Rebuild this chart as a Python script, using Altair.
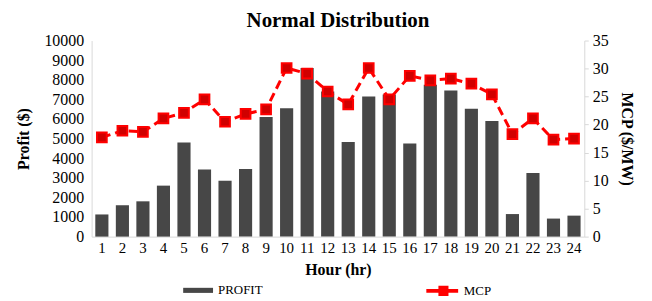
import altair as alt
import pandas as pd

hours = list(range(1, 25))
profit = [1130, 1600, 1800, 2600, 4800, 3420, 2850, 3450, 6100, 6550, 8600, 7400,
          4820, 7150, 7250, 4750, 7750, 7450, 6520, 5900, 1150, 3250, 920, 1070]
mcp = [17.7, 18.9, 18.7, 21.1, 22.1, 24.5, 20.5, 21.9, 22.7, 30.1, 29.1, 25.9,
       23.6, 30.1, 24.5, 28.7, 27.9, 28.2, 27.3, 25.4, 18.3, 21.1, 17.3, 17.5]

df = pd.DataFrame({"Hour": hours, "Profit": profit, "MCP": mcp,
                   "s1": ["PROFIT"] * 24, "s2": ["MCP"] * 24})

FONT = "Liberation Serif"

x = alt.X("Hour:O", title="Hour (hr)",
          scale=alt.Scale(paddingInner=0.36, paddingOuter=0.18),
          axis=alt.Axis(labelAngle=0, labelFontSize=15, labelFont=FONT, labelColor="black",
                        titleFontSize=16, titleFont=FONT, titleFontWeight="bold",
                        titleColor="black", ticks=False, domainColor="#d9d9d9",
                        labelPadding=4, titlePadding=6))

bars = alt.Chart(df).mark_bar(color="#474747").encode(
    x=x,
    y=alt.Y("Profit:Q", title="Profit ($)",
            scale=alt.Scale(domain=[0, 10000], nice=False),
            axis=alt.Axis(values=list(range(0, 10001, 1000)), format="d", grid=False,
                          ticks=False, domainColor="#d9d9d9", labelFontSize=16,
                          labelFont=FONT, labelColor="black", labelPadding=8,
                          titleFontSize=16, titleFont=FONT, titleFontWeight="bold",
                          titleColor="black", titlePadding=12)),
    color=alt.Color("s1:N", scale=alt.Scale(domain=["PROFIT"], range=["#474747"]),
                    legend=alt.Legend(title=None, orient="none", legendX=92, legendY=236,
                                      symbolType="M-1,-0.17H1V0.17H-1Z", symbolSize=900,
                                      labelFont=FONT, labelFontSize=13, labelColor="black",
                                      labelOffset=5, symbolStrokeWidth=0)),
)

y2 = alt.Y("MCP:Q", title="MCP ($/MW)",
           scale=alt.Scale(domain=[0, 35], nice=False),
           axis=alt.Axis(orient="right", values=list(range(0, 36, 5)), grid=False,
                         ticks=True, tickSize=4, tickColor="#d9d9d9",
                         domainColor="#d9d9d9", labelFontSize=16, labelFont=FONT,
                         labelColor="black", labelPadding=4,
                         titleFontSize=16, titleFont=FONT, titleFontWeight="bold",
                         titleColor="black", titleAngle=90, titlePadding=10))

line = alt.Chart(df).mark_line(color="#ff0000", strokeWidth=3, strokeDash=[9, 5]).encode(
    x=x, y=y2,
    stroke=alt.Stroke("s2:N", scale=alt.Scale(domain=["MCP"], range=["#ff0000"]),
                      legend=alt.Legend(title=None, orient="none", legendX=336, legendY=234,
                                        symbolType="M-1,-0.06H0V0.06H-1Z M0.35,-0.06H0.85V0.06H0.35Z M-0.25,-0.25H0.25V0.25H-0.25Z",
                                        symbolSize=1050, symbolStrokeWidth=2,
                                        symbolFillColor="#ff0000",
                                        labelFont=FONT, labelFontSize=13, labelColor="black",
                                        labelOffset=3)),
)

pts = alt.Chart(df).mark_square(size=95, fill="#d00000", stroke="#ff0000",
                                strokeWidth=2, opacity=1).encode(x=x, y=y2)

right = alt.layer(line, pts)

chart = alt.layer(bars, right).resolve_scale(y="independent").properties(
    width=495, height=197,
    autosize=alt.AutoSizeParams(type="none"),
    padding={"left": 84, "top": 32, "right": 60, "bottom": 64},
    title=alt.Title("Normal Distribution", font=FONT, fontSize=21, fontWeight="bold",
                    color="black", anchor="middle", offset=2),
).configure_view(stroke=None)

chart.save("out.html", embed_options={"renderer": "svg", "actions": False})
